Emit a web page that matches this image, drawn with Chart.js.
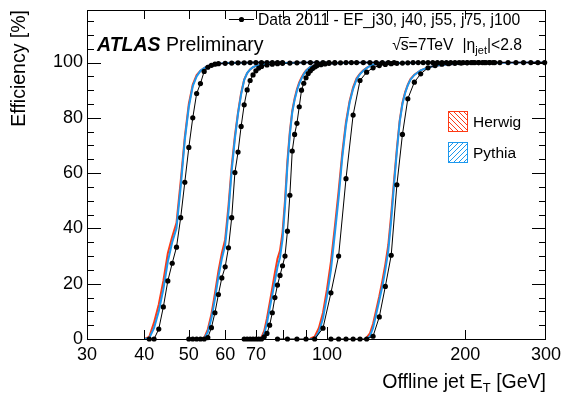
<!DOCTYPE html>
<html><head><meta charset="utf-8">
<script src="https://cdn.jsdelivr.net/npm/chart.js@4.4.0/dist/chart.umd.min.js"></script>
<style>html,body{margin:0;padding:0;background:#fff;overflow:hidden}canvas{display:block}</style>
</head><body>
<canvas id="c" width="567" height="394" style="width:567px;height:394px"></canvas>
<script>
// ---- Data 2011 (black points) : offline jet ET [GeV] and efficiency [%] ----
const dataE1 = [41,42,43,44,45,46,47,48,49,50,51,52,53,54,55,56,57,58,60,62,64,66,68,70,72,74,76,78,80];
const data1  = [0,0,3.6,11.6,21,27.4,33.2,43.9,56.7,69.3,80,88.8,92.4,96.8,98.3,99,99.4,99.6,99.7,99.8,99.9,99.9,100,100,100,100,100,100,100];
const dataE2 = [50,51,52,53,54,55,56,57,58,59,60,61,62,63,64,65,66,67,68,69,70,71,72,74,76,78,80,83,86,89,92,95,98,101,104];
const data2  = [0,0,0,0,0,0.5,4.1,9.5,16.1,22.1,26.1,33,43.9,60.2,67.6,76.9,84.7,90.1,93.5,95.5,97,98,98.6,99.1,99.4,99.6,99.7,99.8,99.9,100,100,100,100,100,100];
const dataE3 = [66,67,68,69,70,71,72,73,74,75,76,77,78,79,80,81,82,83,84,85,86,87,88,89,90,91,92,93,94,95,97,99,101,104,107,110,113,116,120,124,128,132,136,140];
const data3  = [0,0,0,0,0,0,0,0.8,2,5,9.5,15,19.5,23,26.5,30,39,52,68,74,78,84,90,92.5,94.5,96,97,97.8,98.4,98.8,99.2,99.5,99.7,99.8,99.9,100,100,100,100,100,100,100,100,100];
const dataE4 = [78,82,86,90,94,98,102,106,110,114,118,122,126,130,134,138,142,146,150,154,158,162,166,170,174,178,182,186,190,194,198,202,206,210,214,218,222,226,230];
const data4  = [0,0,0,0,0,3.9,16.7,30,58,81,93.5,96.5,98.1,98.9,99.3,99.6,99.7,99.8,99.9,100,100,100,100,100,100,100,100,100,100,100,100,100,100,100,100,100,100,100,100];
const dataE5 = [102,106,110,114,118,122,126,130,134,138,142,146,150,155,160,166,172,178,184,190,196,202,208,214,220,226,232,238,248,258,268,278,288,298];
const data5  = [0,0,0,0,0,0,1,8,19,30.3,55.8,74,86.9,92.9,95.9,98.1,98.9,99.4,99.6,99.7,99.8,99.9,100,100,100,100,100,100,100,100,100,100,100,100];

// ---- Monte Carlo (Herwig red band, Pythia blue band) ----
const mcE1    = [40,41,42,43,44,45,46,47,48,49,50,51,52,53,54,55,56,58,60,65,70,80];
const pythia1 = [0,0.3,4,10,18,28,35,40,55,72,84,91.5,95,97,98,98.8,99.2,99.6,99.8,99.9,100,100];
const herwig1 = [0,0.8,6,12.5,21,31,37,42,57,73,85,92,95.5,97,98,98.8,99.2,99.6,99.8,99.9,100,100];
const mcE2    = [53,54,55,56,57,58,59,60,61,62,63,64,65,66,67,68,69,70,72,75,80,90,100];
const pythia2 = [0,0,2.5,7.5,14.5,22.5,29,34,46,61,72.5,81.5,88.5,93.7,96.2,97.5,98.3,98.8,99.3,99.6,99.8,100,100];
const herwig2 = [0,0.4,3.5,9,16.5,24.5,31,36,48,62.5,73.5,82,89,93.8,96.2,97.5,98.3,98.8,99.3,99.6,99.8,100,100];
const mcE3    = [71,72,73,74,75,76,77,78,79,80,81,82,83,84,85,86,87,88,89,90,92,95,100,110,120,140];
const pythia3 = [0,0.1,2,5.8,11,16,21,26,29.5,36,48,63,74,82,86.5,89.8,92.4,94.2,95.8,97,98.4,99.2,99.6,99.9,100,100];
const herwig3 = [0.2,0.6,3,7.5,13,18.5,24,29,32,38.5,50,64.5,75,82.5,87,90.3,92.8,94.6,96,97.1,98.4,99.2,99.6,99.9,100,100];
const mcE4    = [92,94,96,98,100,102,104,106,108,110,112,114,116,118,120,122,124,126,130,140,160,190,230];
const pythia4 = [0,0,2.5,7.5,15.5,25,38,51,66,77.5,85.5,90.5,94,95.8,97,98,98.8,99.2,99.5,99.8,99.9,100,100];
const herwig4 = [0.2,0.8,4,9.5,18,28,40.5,53.5,67.5,78.5,86,91,94.3,96,97.2,98.1,98.8,99.2,99.5,99.8,99.9,100,100];
const mcE5    = [122,124,126,128,130,132,134,136,138,140,142,144,146,148,150,152,155,160,166,172,180,190,210,240,270,300];
const pythia5 = [0,1,4,9,14,19,25,32,43,56,68,78.5,85,89,91.8,93.8,95.5,97.2,98.2,98.8,99.2,99.5,99.7,99.9,100,100];
const herwig5 = [0.5,2,5.5,10.5,15.5,21,27,34,45,57.5,69,79,85.5,89.3,92,94,95.6,97.2,98.2,98.8,99.2,99.5,99.7,99.9,100,100];

// ---- axis tick labels ----
const xTickLabels = [30,40,50,60,70,100,200,300];
const yTickLabels = [0,20,40,60,80,100];

const RED = '#ff3a14', BLUE = '#1c98ee';
const FONT = "'Liberation Sans', Arial, Helvetica, sans-serif";

function pts(E, V){ return E.map((e,i)=>({x:e, y:V[i]})); }
// Chart.js paints dataset 0 on top: data first, then Pythia, then Herwig (bottom)
const datasets = [];
[[dataE1,data1],[dataE2,data2],[dataE3,data3],[dataE4,data4],[dataE5,data5]].forEach(([e,v])=>{
  datasets.push({data:pts(e,v), showLine:true, borderColor:'#000', borderWidth:1, pointRadius:2.6,
    pointBackgroundColor:'#000', pointBorderWidth:0, clip:false, tension:0});
});
[[mcE1,pythia1],[mcE2,pythia2],[mcE3,pythia3],[mcE4,pythia4],[mcE5,pythia5]].forEach(([e,v])=>{
  datasets.push({data:pts(e,v), showLine:true, borderColor:BLUE, borderWidth:2, pointRadius:0, clip:false, tension:0});
});
[[mcE1,herwig1],[mcE2,herwig2],[mcE3,herwig3],[mcE4,herwig4],[mcE5,herwig5]].forEach(([e,v])=>{
  datasets.push({data:pts(e,v), showLine:true, borderColor:RED, borderWidth:2, pointRadius:0, clip:false, tension:0});
});

const framePlugin = {
  id:'frame',
  afterDraw(chart){
    const {ctx, chartArea:a, scales:{x, y}} = chart;
    ctx.save();
    ctx.strokeStyle = '#000'; ctx.lineWidth = 1;
    ctx.beginPath();
    for (let v = 5; v < 119; v += 5){
      const py = Math.round(y.getPixelForValue(v)) + 0.5;
      const L = (v % 20 === 0 && v <= 100) ? 14 : 7;
      ctx.moveTo(a.left, py); ctx.lineTo(a.left + L, py);
      ctx.moveTo(a.right, py); ctx.lineTo(a.right - L, py);
    }
    [40,50,60,70,80,90,100,200].forEach(v=>{
      const px = Math.round(x.getPixelForValue(v)) + 0.5;
      const L = (v === 100) ? 12 : 9;
      ctx.moveTo(px, a.bottom); ctx.lineTo(px, a.bottom - L);
      ctx.moveTo(px, a.top); ctx.lineTo(px, a.top + L);
    });
    ctx.stroke();
    ctx.strokeRect(Math.round(a.left)+0.5, Math.round(a.top)+0.5, Math.round(a.right-a.left)-1, Math.round(a.bottom-a.top));

    ctx.fillStyle = '#000';
    // ATLAS Preliminary
    ctx.textBaseline = 'alphabetic'; ctx.textAlign = 'left';
    ctx.font = "italic bold 19.5px " + FONT;
    ctx.fillText('ATLAS', 97, 51);
    const wA = ctx.measureText('ATLAS').width;
    ctx.font = "19.5px " + FONT;
    ctx.fillText(' Preliminary', 97 + wA, 51);

    // top legend: data marker
    ctx.beginPath(); ctx.moveTo(229, 19.5); ctx.lineTo(254, 19.5); ctx.stroke();
    ctx.beginPath(); ctx.arc(241.5, 19.5, 2.6, 0, Math.PI*2); ctx.fill();
    ctx.font = "15.7px " + FONT;
    ctx.fillText('Data 2011 - EF_j30, j40, j55, j75, j100', 258, 25);

    // sqrt(s)=7TeV  |eta_jet|<2.8 (right aligned at 522)
    const f = "15.7px " + FONT, fs = "11px " + FONT;
    ctx.font = f;
    const p1 = '\u221As=7TeV', p2 = '|\u03B7', p4 = '|<2.8';
    const w1 = ctx.measureText(p1).width, w2 = ctx.measureText(p2).width, w4 = ctx.measureText(p4).width;
    ctx.font = fs; const w3 = ctx.measureText('jet').width;
    const gap = 9;
    let x0 = 522 - (w1 + gap + w2 + w3 + w4);
    const by = 50;
    ctx.font = f;
    ctx.fillText(p1, x0, by);
    const wr = ctx.measureText('\u221A').width, wsx = ctx.measureText('s').width;
    ctx.beginPath(); ctx.moveTo(x0 + wr - 1, by - 12.5); ctx.lineTo(x0 + wr + wsx, by - 12.5); ctx.stroke();
    let xx = x0 + w1 + gap;
    ctx.fillText(p2, xx, by); xx += w2;
    ctx.font = fs; ctx.fillText('jet', xx, by + 4); xx += w3;
    ctx.font = f; ctx.fillText(p4, xx, by);

    // Herwig / Pythia legend boxes
    function hatchBox(bx, by2, w, h, col, dir){
      ctx.save();
      ctx.strokeStyle = col; ctx.lineWidth = 1;
      ctx.strokeRect(bx + 0.5, by2 + 0.5, w, h);
      ctx.beginPath(); ctx.rect(bx + 0.5, by2 + 0.5, w, h); ctx.clip();
      ctx.beginPath();
      for (let k = -h; k < w + h; k += 5){
        if (dir > 0){ ctx.moveTo(bx + k, by2 + h + 1); ctx.lineTo(bx + k + h + 1, by2); }
        else { ctx.moveTo(bx + k, by2); ctx.lineTo(bx + k + h + 1, by2 + h + 1); }
      }
      ctx.stroke();
      ctx.restore();
    }
    hatchBox(448, 111, 19, 20, RED, -1);
    hatchBox(448, 142, 19, 20, BLUE, 1);
    ctx.fillStyle = '#000';
    ctx.font = "15.5px " + FONT;
    ctx.fillText('Herwig', 473, 127);
    ctx.fillText('Pythia', 473, 158);

    // x title
    ctx.font = "19.5px " + FONT;
    ctx.textAlign = 'left';
    const t1 = 'Offline jet E', t3 = ' [GeV]';
    const wt1 = ctx.measureText(t1).width, wt3 = ctx.measureText(t3).width;
    ctx.font = "13px " + FONT; const wt2 = ctx.measureText('T').width;
    let tx = 546 - (wt1 + wt2 + wt3);
    ctx.font = "19.5px " + FONT; ctx.fillText(t1, tx, 388); tx += wt1;
    ctx.font = "13px " + FONT; ctx.fillText('T', tx, 392); tx += wt2;
    ctx.font = "19.5px " + FONT; ctx.fillText(t3, tx, 388);

    // y title
    ctx.save();
    ctx.translate(25, 10);
    ctx.rotate(-Math.PI/2);
    ctx.textAlign = 'right';
    ctx.font = "19.5px " + FONT;
    ctx.fillText('Efficiency [%]', 0, 0);
    ctx.restore();
    ctx.restore();
  }
};

new Chart(document.getElementById('c'), {
  type: 'scatter',
  data: { datasets },
  options: {
    responsive: false, animation: false, devicePixelRatio: 1,
    layout: { padding: { top: 10, right: 21, left: 0, bottom: 0 } },
    plugins: { legend: { display: false }, tooltip: { enabled: false } },
    scales: {
      x: {
        type: 'logarithmic', min: 30, max: 300, position: 'bottom',
        grid: { display: false, drawTicks: false }, border: { display: false },
        afterBuildTicks: s => { s.ticks = xTickLabels.map(v => ({ value: v })); },
        afterFit: s => { s.height = 55; s.paddingLeft = 0; s.paddingRight = 0; },
        ticks: { autoSkip: false, maxRotation: 0, padding: 5, color: '#000',
          font: { family: FONT, size: 18 }, callback: v => String(v) }
      },
      y: {
        min: 0, max: 119,
        grid: { display: false, drawTicks: false }, border: { display: false },
        afterBuildTicks: s => { s.ticks = yTickLabels.map(v => ({ value: v })); },
        afterFit: s => { s.width = 87; s.paddingTop = 0; s.paddingBottom = 0; },
        ticks: { padding: 4, color: '#000', font: { family: FONT, size: 18 }, callback: v => String(v) }
      }
    }
  },
  plugins: [framePlugin]
});
</script>
</body></html>
